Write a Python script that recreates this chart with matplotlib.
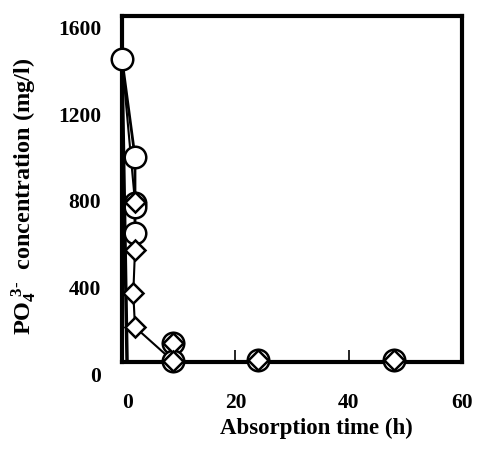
import matplotlib
matplotlib.use('Agg')
import matplotlib.pyplot as plt
import matplotlib.transforms as mtransforms

plt.rcParams['font.family'] = 'Liberation Serif'
plt.rcParams['font.weight'] = 'bold'
plt.rcParams['mathtext.fontset'] = 'custom'
plt.rcParams['mathtext.rm'] = 'Liberation Serif:bold'
plt.rcParams['mathtext.bf'] = 'Liberation Serif:bold'
plt.rcParams['mathtext.it'] = 'Liberation Serif:bold'

circle_t = [0, 2.3, 2.3, 2.3, 2.3, 9, 9, 24, 48]
circle_v = [1400, 948, 735, 717, 597, 88, 5, 10, 10]
diamond_t = [2.3, 2.3, 2.0, 2.3, 9, 9, 24, 48]
diamond_v = [740, 518, 319, 162, 88, 5, 10, 10]

# connecting lines
line_a_t = [0, 2.3, 2.3]
line_a_v = [1400, 948, 597]
line_b_t = [0, 0.9, 9, 48]
line_b_v = [1400, 0, 0, 0]
line_c_t = [0, 2.3, 2.3, 2.0, 2.3, 9]
line_c_v = [1400, 740, 518, 319, 162, 5]

xticks = [0, 20, 40, 60]
yticks = [0, 400, 800, 1200, 1600]

fig = plt.figure(figsize=(4.82, 4.51), dpi=100)
ax = fig.add_axes([0.253, 0.197, 0.706, 0.768])

ax.plot(line_b_t, line_b_v, color='black', lw=2.5)
ax.plot(line_a_t, line_a_v, color='black', lw=2)
ax.plot(line_c_t, line_c_v, color='black', lw=1.5)

ax.plot(circle_t, circle_v, 'o', ms=15.5, mfc='white', mec='black', mew=1.8, clip_on=False, zorder=3)
ax.plot(diamond_t, diamond_v, 'D', ms=10.5, mfc='white', mec='black', mew=1.8, clip_on=False, zorder=4)

ax.set_xlim(0, 58.3)
ax.set_ylim(0, 1600)
ax.set_xticks(xticks)
ax.set_yticks(yticks)
ax.tick_params(axis='x', direction='in', length=9, width=1.2, pad=22, labelsize=15.5)
ax.tick_params(axis='y', length=0, pad=15, labelsize=15.5)
for s in ax.spines.values():
    s.set_linewidth(3)

off = mtransforms.ScaledTranslation(0, -12 / 100, fig.dpi_scale_trans)
for lab in ax.get_yticklabels():
    lab.set_transform(lab.get_transform() + off)
    lab.set_fontweight('bold')
xoff = mtransforms.ScaledTranslation(6 / 100, 0, fig.dpi_scale_trans)
xlabs = ax.get_xticklabels()
xlabs[0].set_transform(xlabs[0].get_transform() + xoff)
for lab in xlabs:
    lab.set_fontweight('bold')

ax.set_xlabel('Absorption time (h)', fontsize=16.5, fontweight='bold')
ax.xaxis.set_label_coords(0.57, -0.162)
ax.set_ylabel(r'PO$_{4}^{\ \text{3-}}$  concentration (mg/l)', fontsize=17.5, fontweight='bold')
ax.yaxis.set_label_coords(-0.245, 0.477)

fig.savefig('out.png', dpi=100)
